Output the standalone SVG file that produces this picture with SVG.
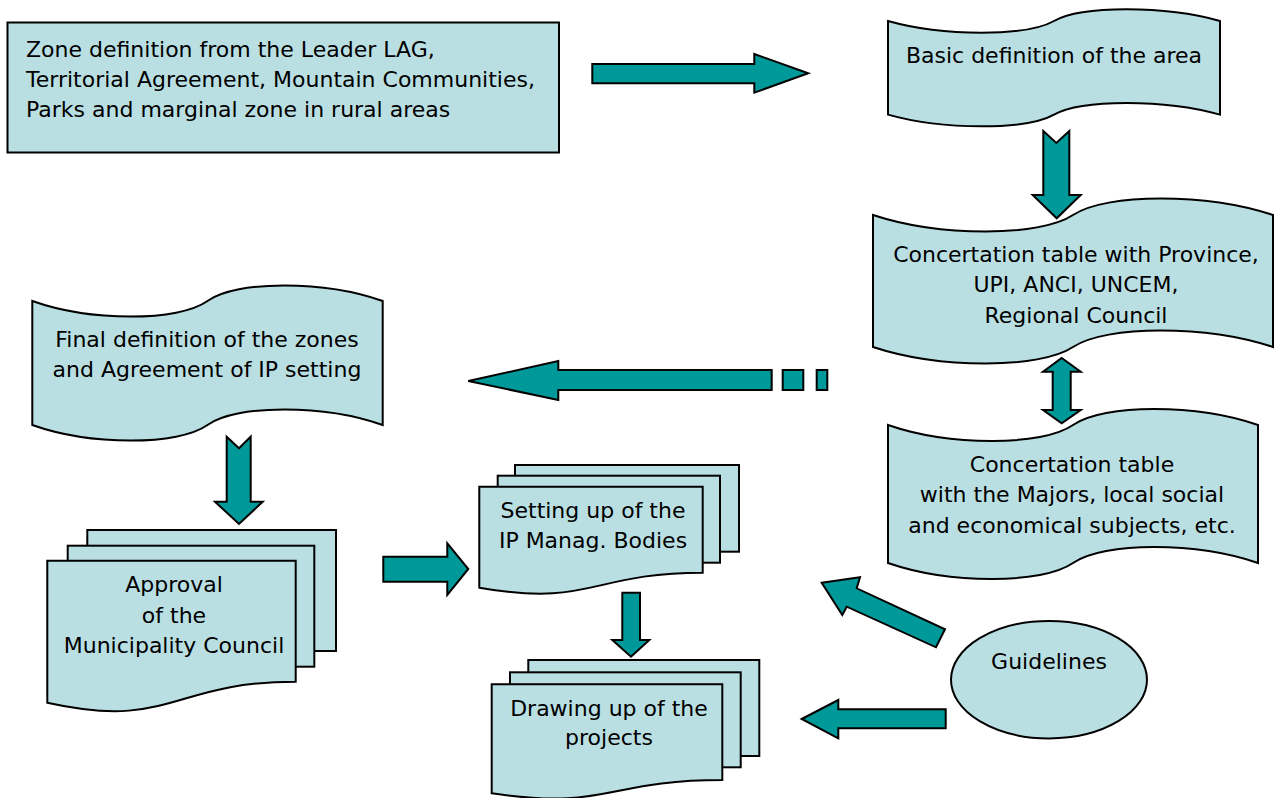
<svg xmlns="http://www.w3.org/2000/svg" width="1277" height="798" viewBox="0 0 1277 798">
<style>
.box{fill:#BADFE3;stroke:#000;stroke-width:2;stroke-linejoin:miter}
.arr{fill:#009999;stroke:#000;stroke-width:2;stroke-linejoin:miter}
text{font-family:"DejaVu Sans","Liberation Sans",sans-serif;font-size:22px;fill:#000}
.c{text-anchor:middle}
</style>
<rect width="1277" height="798" fill="#fff"/>

<g id="connectors">
<polygon class="arr" points="592.3,64 754.3,64 754.3,54 808.3,73.3 754.3,92.7 754.3,83.3 592.3,83.3"/>
<polygon class="arr" points="1043.3,131 1056.3,143 1069.3,131 1069.3,195 1080.7,195 1056.7,218.3 1032.7,195 1043.3,195"/>
<polygon class="arr" points="1061.7,358 1080.7,371.7 1070.7,371.7 1070.7,410 1080.7,410 1061.7,423.3 1043,410 1052.7,410 1052.7,371.7 1043,371.7"/>
<polygon class="arr" points="468.3,381 558.3,361 558.3,370 771.7,370 771.7,390 558.3,390 558.3,400"/>
<rect class="arr" x="782.7" y="370" width="20.6" height="20"/>
<rect class="arr" x="816.7" y="370" width="10.6" height="20"/>
<polygon class="arr" points="226.7,436.7 239,448.3 250.7,436.7 250.7,501.7 262.7,501.7 239,524 215,501.7 226.7,501.7"/>
<polygon class="arr" points="383.3,556.7 447.3,556.7 447.3,543.3 468.3,569 447.3,595 447.3,581.7 383.3,581.7"/>
<polygon class="arr" points="622.3,592.7 640,592.7 640,640 649.3,640 631,656.7 612.3,640 622.3,640"/>
<polygon class="arr" points="821.7,582.7 860,577.3 856.7,588.3 945,629.3 936,647.3 846.7,606.7 842.3,615"/>
<polygon class="arr" points="801.7,719 838.3,700 838.3,709.3 945.7,709.3 945.7,728.3 838.3,728.3 838.3,738.3"/>
</g>

<g id="zone-definition">
<rect class="box" x="7.5" y="22.5" width="551.5" height="130"/>
<text x="26" y="56.5">Zone definition from the Leader LAG,</text>
<text x="26" y="87">Territorial Agreement, Mountain Communities,</text>
<text x="26" y="116.5">Parks and marginal zone in rural areas</text>
</g>

<g id="basic-definition">
<path class="box" d="M888,21 C943.3,36.6 1026.3,36.6 1054,21 C1081.7,5.4 1164.7,5.4 1220,21 L1220,114.6 C1164.7,99 1081.7,99 1054,114.6 C1026.3,130.2 943.3,130.2 888,114.6 Z"/>
<text class="c" x="1054" y="62.5">Basic definition of the area</text>
</g>

<g id="concertation-province">
<path class="box" d="M873,215 C939.7,237 1039.7,237 1073,215 C1106.3,193 1206.3,193 1273,215 L1273,347 C1206.3,325 1106.3,325 1073,347 C1039.7,369 939.7,369 873,347 Z"/>
<text class="c" x="1076" y="261.5">Concertation table with Province,</text>
<text class="c" x="1076" y="292">UPI, ANCI, UNCEM,</text>
<text class="c" x="1076" y="322.5">Regional Council</text>
</g>

<g id="concertation-majors">
<path class="box" d="M888,425 C949.7,446.3 1042.2,446.3 1073,425 C1103.8,403.7 1196.3,403.7 1258,425 L1258,563 C1196.3,541.7 1103.8,541.7 1073,563 C1042.2,584.3 949.7,584.3 888,563 Z"/>
<text class="c" x="1072" y="471.5">Concertation table</text>
<text class="c" x="1072" y="502">with the Majors, local social</text>
<text class="c" x="1072" y="532.5">and economical subjects, etc.</text>
</g>

<g id="final-definition">
<path class="box" d="M32.3,301 C90.7,321.7 178.3,321.7 207.5,301 C236.7,280.3 324.3,280.3 382.7,301 L382.7,425 C324.3,404.3 236.7,404.3 207.5,425 C178.3,445.7 90.7,445.7 32.3,425 Z"/>
<text class="c" x="207" y="346.5">Final definition of the zones</text>
<text class="c" x="207" y="376.5">and Agreement of IP setting</text>
</g>

<g id="approval">
<rect class="box" x="87.3" y="530" width="248.7" height="121"/>
<rect class="box" x="67.7" y="545.7" width="246.6" height="121"/>
<path class="box" d="M47.3,560.7 L295.7,560.7 L295.7,681.7 C171.5,681.7 171.5,730.3 47.3,702.7 Z"/>
<text class="c" x="174" y="591.5">Approval</text>
<text class="c" x="174" y="622.5">of the</text>
<text class="c" x="174" y="652.5">Municipality Council</text>
</g>

<g id="setting-up">
<rect class="box" x="515" y="465" width="224" height="86.7"/>
<rect class="box" x="497.7" y="475.7" width="222.3" height="87"/>
<path class="box" d="M479.3,486.7 L702.7,486.7 L702.7,572.7 C591,572.7 591,607.4 479.3,587.7 Z"/>
<text class="c" x="593" y="518.3">Setting up of the</text>
<text class="c" x="593" y="547.7">IP Manag. Bodies</text>
</g>

<g id="drawing-up">
<rect class="box" x="528.3" y="660" width="231" height="96"/>
<rect class="box" x="510" y="672.3" width="230.7" height="95"/>
<path class="box" d="M491.7,684.3 L722.3,684.3 L722.3,780 C607,780 607,810.7 491.7,793.3 Z"/>
<text class="c" x="609" y="715.7">Drawing up of the</text>
<text class="c" x="609" y="745">projects</text>
</g>

<g id="guidelines">
<ellipse class="box" cx="1049" cy="679.7" rx="98" ry="58.7"/>
<text class="c" x="1049" y="669.3">Guidelines</text>
</g>
</svg>
